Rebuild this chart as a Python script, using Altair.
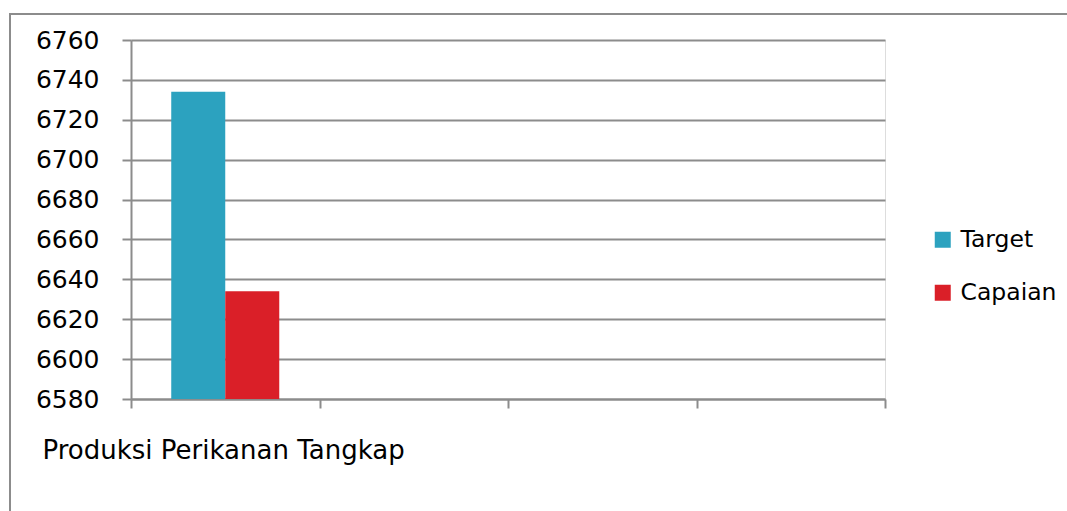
import altair as alt
import pandas as pd

categories = ["Produksi Perikanan Tangkap", "c2", "c3", "c4"]
series = ["Target", "Capaian"]
values = [6734, 6634]
colors = ["#2ca2bf", "#da1f28"]
y_ticks = [6580, 6600, 6620, 6640, 6660, 6680, 6700, 6720, 6740, 6760]

df = pd.DataFrame({
    "category": [categories[0]] * len(series),
    "series": series,
    "value": values,
})

FONT = "DejaVu Sans"
GRAY = "#8c8c8c"

bars = alt.Chart(df).mark_bar(size=54).encode(
    x=alt.X(
        "category:N",
        scale=alt.Scale(domain=categories, paddingInner=0, paddingOuter=0),
        axis=alt.Axis(
            title=categories[0],
            titleX=-89,
            titleY=51,
            titleAlign="left",
            titleBaseline="middle",
            titleFont=FONT,
            titleFontSize=26,
            titleFontWeight="normal",
            titleColor="#000000",
            tickBand="extent",
            grid=False,
            labels=False,
            domainColor=GRAY,
            domainWidth=2,
            tickColor=GRAY,
            tickWidth=2,
            tickSize=9,
        ),
    ),
    xOffset=alt.XOffset(
        "series:N",
        sort=series,
        scale=alt.Scale(paddingInner=0, paddingOuter=0.745),
    ),
    y=alt.Y(
        "value:Q",
        scale=alt.Scale(domain=[y_ticks[0], y_ticks[-1]], nice=False, zero=False),
        axis=alt.Axis(
            title=None,
            values=y_ticks,
            format="d",
            grid=True,
            gridColor=GRAY,
            gridWidth=2,
            domainColor=GRAY,
            domainWidth=2,
            tickColor=GRAY,
            tickWidth=2,
            tickSize=9,
            labelPadding=23,
            labelFont=FONT,
            labelFontSize=25,
            labelColor="#000000",
        ),
    ),
    y2=alt.datum(y_ticks[0]),
    color=alt.Color(
        "series:N",
        sort=series,
        scale=alt.Scale(domain=series, range=colors),
        legend=alt.Legend(
            title=None,
            orient="none",
            legendX=800,
            legendY=188,
            symbolType="square",
            symbolSize=256,
            symbolStrokeWidth=0,
            labelFont=FONT,
            labelFontSize=23.5,
            labelColor="#000000",
            labelOffset=6,
            rowPadding=28,
        ),
    ),
)

frame = alt.Chart(df).mark_rect(fill=None, stroke=GRAY, strokeWidth=2).encode(
    x=alt.value(-121),
    x2=alt.value(940),
    y=alt.value(-26),
    y2=alt.value(500),
)

chart = alt.layer(frame, bars).properties(
    width=754,
    height=359,
    autosize=alt.AutoSizeParams(type="none"),
    padding={"left": 131, "top": 40, "right": 182, "bottom": 112},
).configure_view(stroke=None).configure(background="#ffffff")

chart.save("out.html", embed_options={"renderer": "svg", "actions": False})
